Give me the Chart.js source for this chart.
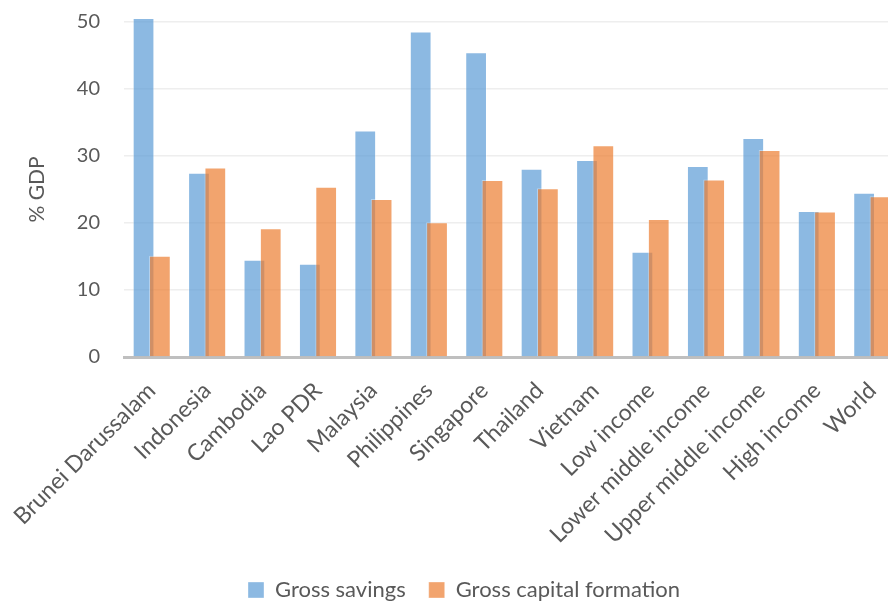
<!DOCTYPE html>
<html>
<head>
<meta charset="utf-8">
<script src="https://cdn.jsdelivr.net/npm/chart.js@4"></script>
<style>
html,body{margin:0;padding:0;background:#fff;overflow:hidden;}
#wrap{width:900px;height:604px;position:relative;}
</style>
</head>
<body>
<div id="wrap"><canvas id="c"></canvas></div>
<script>
const categories = ["Brunei Darussalam","Indonesia","Cambodia","Lao PDR","Malaysia","Philippines","Singapore","Thailand","Vietnam","Low income","Lower middle income","Upper middle income","High income","World"];
const grossSavings = [50.6, 27.5, 14.5, 13.9, 33.8, 48.6, 45.5, 28.1, 29.4, 15.7, 28.5, 32.7, 21.8, 24.5];
const grossCapitalFormation = [15.1, 28.3, 19.2, 25.4, 23.6, 20.1, 26.4, 25.2, 31.6, 20.6, 26.5, 30.9, 21.7, 24.0];
const yTicks = [0, 10, 20, 30, 40, 50];

const FONT = 'Lato, "Open Sans", sans-serif';
const TXT = '#595959';

const drawOrder = {
  id: 'drawOrder',
  beforeDatasetsDraw(chart) {
    for (let i = 0; i < chart.data.datasets.length; i++) {
      const meta = chart.getDatasetMeta(i);
      if (!meta.hidden) meta.controller.draw();
    }
    return false;
  }
};

new Chart(document.getElementById('c'), {
  type: 'bar',
  data: {
    labels: categories,
    datasets: [
      { label: 'Gross savings', data: grossSavings, backgroundColor: 'rgba(91,155,213,0.7)', borderColor: 'rgba(255,255,255,0.35)', borderWidth: 1, clip: false },
      { label: 'Gross capital formation', data: grossCapitalFormation, backgroundColor: 'rgba(237,125,49,0.7)', borderColor: 'rgba(255,255,255,0.35)', borderWidth: 1, clip: false }
    ]
  },
  options: {
    responsive: true,
    maintainAspectRatio: false,
    animation: false,
    categoryPercentage: 0.59,
    barPercentage: 1.33,
    layout: { padding: { top: 22, right: 0, bottom: -7, left: 28 } },
    plugins: {
      tooltip: { enabled: false },
      legend: {
        position: 'bottom',
        labels: { font: { family: FONT, size: 22 }, color: TXT, boxWidth: 16, boxHeight: 16, padding: 23 }
      }
    },
    scales: {
      x: {
        grid: { display: false, drawTicks: false },
        border: { display: true, color: '#BFBFBF', width: 3 },
        ticks: { font: { family: FONT, size: 23 }, color: TXT, minRotation: 45, maxRotation: 45, autoSkip: false, padding: 20 },
        afterFit(s) { s.height = 199; s.paddingLeft = 0; s.paddingRight = 0; }
      },
      y: {
        min: 0, max: 50,
        afterBuildTicks(s) { s.ticks = yTicks.map(v => ({ value: v })); },
        grid: { color: '#EEEEEE', lineWidth: 1.5, drawTicks: false },
        border: { display: false },
        ticks: { font: { family: FONT, size: 20 }, color: TXT, padding: 24 },
        title: { display: true, text: '% GDP', font: { family: FONT, size: 21 }, color: TXT, padding: { top: -3, bottom: 0 } },
        afterFit(s) { s.width = 96; s.paddingTop = 0; s.paddingBottom = 0; }
      }
    }
  },
  plugins: [drawOrder]
});
</script>
</body>
</html>
